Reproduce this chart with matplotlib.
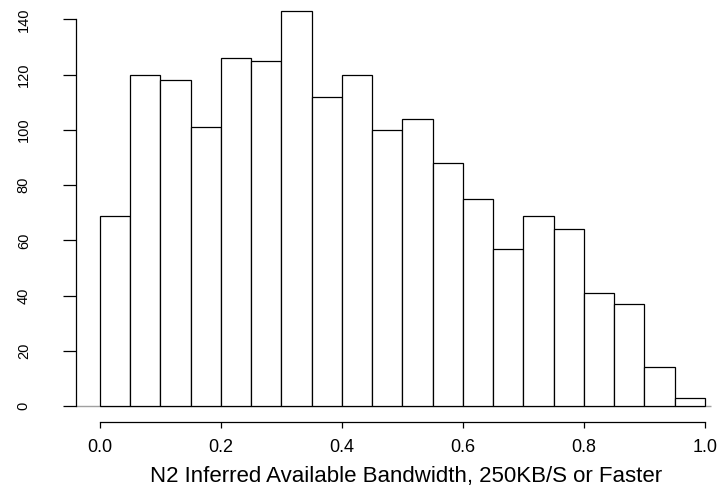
import matplotlib

matplotlib.use("Agg")
import matplotlib.pyplot as plt

plt.rcParams["font.family"] = ["Liberation Sans", "DejaVu Sans"]

# histogram of inferred available bandwidth, bins of 0.05 on [0, 1]
bin_edges = [0.00, 0.05, 0.10, 0.15, 0.20, 0.25, 0.30, 0.35, 0.40, 0.45,
             0.50, 0.55, 0.60, 0.65, 0.70, 0.75, 0.80, 0.85, 0.90, 0.95, 1.00]
counts = [69, 120, 118, 101, 126, 125, 143, 112, 120, 100,
          104, 88, 75, 57, 69, 64, 41, 37, 14, 3]
x_ticks = [0.0, 0.2, 0.4, 0.6, 0.8, 1.0]
y_ticks = [0, 20, 40, 60, 80, 100, 120, 140]
x_title = "N2 Inferred Available Bandwidth, 250KB/S or Faster"

W, H = 727, 492
fig = plt.figure(figsize=(W / 100, H / 100), dpi=100)
# plot region like R: 4% padding on each side of the data range
ax = fig.add_axes([75.8 / W, (H - 421.8) / H, (729 - 75.8) / W, (421.8 + 4.6) / H])

ax.bar(bin_edges[:-1], counts, width=0.05, align="edge",
       color="white", edgecolor="black", linewidth=0.9)
# grey floor under the bars, as in the original device output
ax.hlines(0, -0.04, 1.01, color="#a0a0a0", lw=1.0, zorder=0.5)

top = max(counts)
ax.set_xlim(-0.04, 1.04)
ax.set_ylim(-0.04 * top, 1.04 * top)

for side in ("top", "right"):
    ax.spines[side].set_visible(False)
ax.spines["left"].set_bounds(0, 140)
ax.spines["bottom"].set_bounds(0, 1)
for side in ("left", "bottom"):
    ax.spines[side].set_linewidth(0.9)

ax.set_xticks(x_ticks, [f"{t:.1f}" for t in x_ticks])
ax.set_yticks(y_ticks, [str(t) for t in y_ticks])
ax.tick_params(axis="x", length=4.2, width=0.9, pad=8, labelsize=13)
ax.tick_params(axis="y", length=9.4, width=0.9, pad=23, labelsize=10.5,
               labelrotation=90)
ax.yaxis.get_major_ticks()[0].tick1line.set_color("#a0a0a0")
for lab in ax.get_yticklabels():
    lab.set_verticalalignment("center")

fig.text(406 / W, (H - 482) / H, x_title, fontsize=16,
         ha="center", va="baseline")

fig.savefig("out.png", dpi=100)
